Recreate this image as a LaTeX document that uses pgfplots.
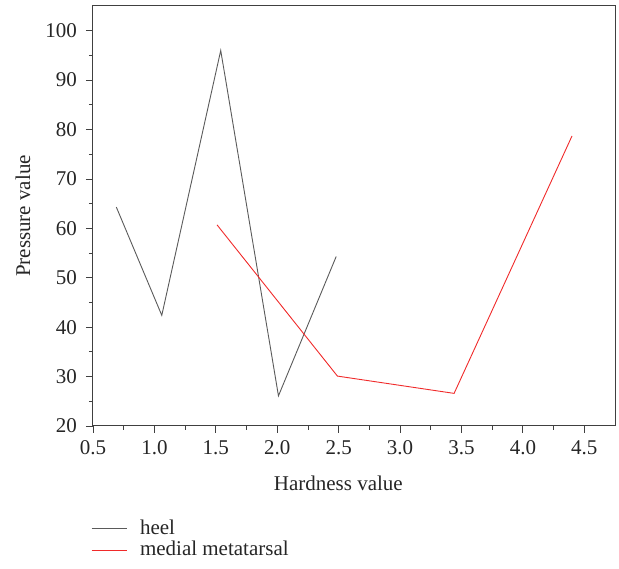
\documentclass[border=0pt]{standalone}
\usepackage{fontspec}
\setmainfont{Liberation Serif}
\usepackage{pgfplots}
\pgfplotsset{compat=1.18}
\definecolor{heelc}{HTML}{5A5A5A}
\definecolor{redc}{HTML}{F02A2A}
\begin{document}
\fontsize{21}{25}\selectfont
\begin{tikzpicture}
\begin{axis}[
  name=ax,
  scale only axis,
  width=522pt, height=420pt,
  xmin=0.5, xmax=4.75, ymin=20, ymax=105,
  xtick={0.5,1,...,4.5},
  ytick={20,30,...,100},
  minor x tick num=1, minor y tick num=1,
  xticklabel style={/pgf/number format/.cd,fixed,fixed zerofill,precision=1},
  /pgf/number format/assume math mode=true,
  tick align=outside,
  major tick length=7pt, minor tick length=4pt,
  xtick pos=bottom, ytick pos=left,
  axis line style={line width=1pt, color=black!75},
  tick style={line width=0.8pt, color=black!75},
  xlabel={Hardness value}, ylabel={Pressure value},
  every axis x label/.style={at={(axis description cs:0.47,-0.136)}, anchor=center},
  every axis y label/.style={at={(axis description cs:-0.134,0.5)}, rotate=90, anchor=center},
  yticklabel style={xshift=-2pt},
  tick label style={font=\fontsize{21}{25}\selectfont, text=black!85},
  label style={font=\fontsize{21}{25}\selectfont, text=black!85},
  legend style={at={(-0.004,-0.213)}, anchor=north west, draw=none, fill=none,
    font=\fontsize{21}{25}\selectfont, row sep=0pt, inner xsep=0pt},
  legend cell align=left,
  legend image code/.code={\draw plot coordinates {(0pt,0pt) (35pt,0pt)}; \path (46pt,0pt);},
]
\addplot[heelc, line width=0.9pt] coordinates {
  (0.69,64.3) (1.06,42.4) (1.54,96.0) (2.01,26.1) (2.48,54.3)
};
\addlegendentry{\textcolor{black!85}{heel}}
\addplot[redc, line width=0.9pt] coordinates {
  (1.51,60.7) (2.49,30.1) (3.44,26.6) (4.40,78.7)
};
\addlegendentry{\textcolor{black!85}{medial metatarsal}}
\end{axis}
\pgfresetboundingbox
\path ([shift={(-93pt,-143pt)}]ax.south west) rectangle ++(619pt,569pt);
\end{tikzpicture}
\end{document}
